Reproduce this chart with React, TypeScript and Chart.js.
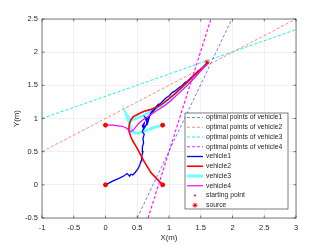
import React, { useEffect, useRef } from "react";
import { Chart, registerables } from "chart.js";
Chart.register(...registerables);

const xTicks = [-1, -0.5, 0, 0.5, 1, 1.5, 2, 2.5, 3];
const yTicks = [-0.5, 0, 0.5, 1, 1.5, 2, 2.5];

// optimal-point lines (two end points each)
const opt1X = [0.5, 1.99];
const opt1Y = [-0.5, 2.5];
const opt2X = [-1, 3];
const opt2Y = [0.5, 2.5];
const opt3X = [-1, 3];
const opt3Y = [1.0, 2.34];
const opt4X = [0.67, 1.66];
const opt4Y = [-0.5, 2.5];

const v1X = [0, 0.12, 0.22, 0.3, 0.34, 0.38, 0.4, 0.43, 0.47, 0.51, 0.54, 0.56, 0.57, 0.59, 0.58, 0.6, 0.59, 0.61, 0.58, 0.6, 0.58, 0.61, 0.6, 0.64, 0.67, 0.62, 0.66, 0.7, 0.64, 0.72, 0.68, 0.74, 0.7, 0.77, 0.73, 0.8, 0.78, 0.85, 0.83, 0.9, 0.95, 1.0, 1.05, 1.1, 1.15, 1.2, 1.25, 1.3, 1.35, 1.4, 1.45, 1.5, 1.55, 1.6];
const v1Y = [0, 0.06, 0.1, 0.14, 0.17, 0.13, 0.16, 0.15, 0.19, 0.24, 0.3, 0.36, 0.43, 0.5, 0.57, 0.63, 0.7, 0.76, 0.8, 0.85, 0.89, 0.93, 0.84, 0.9, 0.98, 1.02, 0.92, 1.05, 0.97, 1.08, 1.01, 1.12, 1.06, 1.14, 1.1, 1.18, 1.14, 1.22, 1.19, 1.26, 1.31, 1.34, 1.39, 1.42, 1.46, 1.49, 1.54, 1.57, 1.62, 1.66, 1.71, 1.74, 1.79, 1.84];

const v2X = [0.9, 0.81, 0.72, 0.66, 0.61, 0.56, 0.51, 0.47, 0.43, 0.4, 0.38, 0.36, 0.37, 0.38, 0.4, 0.43, 0.48, 0.54, 0.61, 0.69, 0.77, 0.85, 0.92, 1.0, 1.1, 1.2, 1.3, 1.4, 1.5, 1.56, 1.62, 1.6];
const v2Y = [0, 0.09, 0.18, 0.27, 0.35, 0.44, 0.53, 0.6, 0.66, 0.72, 0.78, 0.84, 0.88, 0.93, 0.98, 1.02, 1.05, 1.08, 1.11, 1.13, 1.16, 1.19, 1.24, 1.3, 1.38, 1.47, 1.56, 1.65, 1.74, 1.79, 1.85, 1.83];

const v3X = [0.9, 0.82, 0.75, 0.67, 0.59, 0.52, 0.46, 0.42, 0.4, 0.38, 0.35, 0.33, 0.37, 0.4, 0.44, 0.48, 0.53, 0.59, 0.66, 0.74, 0.82, 0.9, 1.0, 1.1, 1.2, 1.3, 1.4, 1.5, 1.6];
const v3Y = [0.9, 0.88, 0.86, 0.83, 0.8, 0.78, 0.78, 0.81, 0.85, 0.93, 1.0, 1.06, 1.0, 0.97, 0.99, 1.0, 1.02, 1.04, 1.08, 1.12, 1.16, 1.2, 1.28, 1.36, 1.45, 1.54, 1.63, 1.73, 1.83];

const v4X = [0, 0.06, 0.12, 0.2, 0.27, 0.32, 0.35, 0.39, 0.43, 0.46, 0.5, 0.54, 0.59, 0.64, 0.7, 0.78, 0.86, 0.94, 1.02, 1.1, 1.2, 1.3, 1.4, 1.5, 1.6];
const v4Y = [0.9, 0.9, 0.9, 0.89, 0.88, 0.86, 0.84, 0.8, 0.82, 0.85, 0.9, 0.94, 0.98, 1.01, 1.05, 1.1, 1.15, 1.2, 1.26, 1.33, 1.42, 1.51, 1.61, 1.72, 1.82];

const startX = [0, 0.9, 0, 0.9];
const startY = [0, 0, 0.9, 0.9];
const sourceX = [1.6];
const sourceY = [1.85];

const legendLabels = [
  "optimal points of vehicle1",
  "optimal points of vehicle2",
  "optimal points of vehicle3",
  "optimal points of vehicle4",
  "vehicle1",
  "vehicle2",
  "vehicle3",
  "vehicle4",
  "starting point",
  "source",
];
const xTitle = "X(m)";
const yTitle = "Y(m)";

const pts = (xs: number[], ys: number[]) => xs.map((x, i) => ({ x, y: ys[i] }));

const FONT = "'Liberation Sans', Arial, sans-serif";
const TXT = "#262626";

const boxPlugin = {
  id: "boxPlugin",
  afterDraw(chart: any) {
    const { ctx, chartArea: a, scales } = chart;
    ctx.save();
    ctx.strokeStyle = "#262626";
    ctx.lineWidth = 0.6;
    ctx.strokeRect(a.left, a.top, a.right - a.left, a.bottom - a.top);
    // inward ticks
    ctx.beginPath();
    xTicks.forEach((t) => {
      const px = scales.x.getPixelForValue(t);
      ctx.moveTo(px, a.bottom);
      ctx.lineTo(px, a.bottom - 2.5);
      ctx.moveTo(px, a.top);
      ctx.lineTo(px, a.top + 2.5);
    });
    yTicks.forEach((t) => {
      const py = scales.y.getPixelForValue(t);
      ctx.moveTo(a.left, py);
      ctx.lineTo(a.left + 2.5, py);
      ctx.moveTo(a.right, py);
      ctx.lineTo(a.right - 2.5, py);
    });
    ctx.stroke();

    // axis titles
    ctx.fillStyle = TXT;
    ctx.font = `7.8px ${FONT}`;
    ctx.textAlign = "center";
    ctx.textBaseline = "middle";
    ctx.fillText(xTitle, (a.left + a.right) / 2, 238);
    ctx.save();
    ctx.translate(17, (a.top + a.bottom) / 2);
    ctx.rotate(-Math.PI / 2);
    ctx.fillText(yTitle, 0, 0);
    ctx.restore();

    // legend
    const lx = 185, ly = 113, lw = 103, lh = 96;
    ctx.fillStyle = "#fff";
    ctx.fillRect(lx, ly, lw, lh);
    ctx.strokeStyle = "#262626";
    ctx.lineWidth = 0.6;
    ctx.strokeRect(lx, ly, lw, lh);
    const ds = chart.data.datasets;
    ctx.font = `6.8px ${FONT}`;
    ctx.textBaseline = "middle";
    ctx.textAlign = "left";
    legendLabels.forEach((lab, i) => {
      const y = ly + 4.5 + i * 9.75;
      const d = ds[i];
      const x0 = lx + 2, x1 = lx + 18;
      if (i < 8) {
        ctx.save();
        ctx.strokeStyle = d.borderColor;
        ctx.lineWidth = d.borderWidth;
        ctx.setLineDash(d.borderDash || []);
        ctx.beginPath();
        ctx.moveTo(x0, y);
        ctx.lineTo(x1, y);
        ctx.stroke();
        ctx.restore();
      } else if (i === 8) {
        ctx.fillStyle = "#ff0000";
        ctx.beginPath();
        ctx.arc((x0 + x1) / 2, y, 1, 0, Math.PI * 2);
        ctx.fill();
      } else {
        ctx.save();
        ctx.strokeStyle = "#ff0000";
        ctx.lineWidth = 1;
        const cx = (x0 + x1) / 2, r = 2.5;
        ctx.beginPath();
        for (let k = 0; k < 4; k++) {
          const ang = (k * Math.PI) / 4;
          ctx.moveTo(cx - r * Math.cos(ang), y - r * Math.sin(ang));
          ctx.lineTo(cx + r * Math.cos(ang), y + r * Math.sin(ang));
        }
        ctx.stroke();
        ctx.restore();
      }
      ctx.fillStyle = TXT;
      ctx.fillText(lab, lx + 21, y);
    });
    ctx.restore();
  },
};

export default function App() {
  const ref = useRef<HTMLCanvasElement>(null);
  useEffect(() => {
    document.body.style.margin = "0";
    const dashed = (xs: number[], ys: number[], color: string, w: number, dash: number[]) => ({
      data: pts(xs, ys),
      showLine: true,
      borderColor: color,
      borderWidth: w,
      borderDash: dash,
      pointRadius: 0,
      fill: false,
    });
    const solid = (xs: number[], ys: number[], color: string, w: number, order: number) => ({
      data: pts(xs, ys),
      showLine: true,
      borderColor: color,
      borderWidth: w,
      pointRadius: 0,
      fill: false,
      order,
    });
    const chart = new Chart(ref.current!, {
      type: "scatter",
      data: {
        datasets: [
          dashed(opt1X, opt1Y, "rgba(60,60,255,0.85)", 0.8, [3, 2]),
          dashed(opt2X, opt2Y, "rgba(255,80,80,0.85)", 0.8, [3, 2]),
          dashed(opt3X, opt3Y, "rgba(0,235,235,0.9)", 1, [3, 2]),
          dashed(opt4X, opt4Y, "rgba(255,0,255,0.9)", 1.2, [3, 2]),
          solid(v1X, v1Y, "#0000ff", 1.3, 3),
          solid(v2X, v2Y, "#ff0000", 1.6, 2),
          solid(v3X, v3Y, "rgb(110,255,255)", 3, 4),
          solid(v4X, v4Y, "#ff00ff", 1.2, 1),
          {
            data: pts(startX, startY),
            pointRadius: 2,
            pointBackgroundColor: "#ff0000",
            pointBorderColor: "#ff0000",
            showLine: false,
            order: 0,
          },
          {
            data: pts(sourceX, sourceY),
            pointRadius: 2.5,
            pointStyle: "star",
            pointBackgroundColor: "rgba(0,0,0,0)",
            pointBorderColor: "#ff0000",
            pointBorderWidth: 1,
            showLine: false,
            order: 5,
          },
        ] as any,
      },
      options: {
        animation: false,
        responsive: false,
        devicePixelRatio: 1,
        layout: { padding: { top: 19, right: 31, left: 0, bottom: 0 } },
        plugins: { legend: { display: false }, tooltip: { enabled: false } },
        scales: {
          x: {
            type: "linear",
            min: -1,
            max: 3,
            afterBuildTicks: (s: any) => {
              s.ticks = xTicks.map((v) => ({ value: v }));
            },
            afterFit: (s: any) => {
              s.height = 27;
            },
            grid: { color: "#e6e6e6", drawTicks: false, lineWidth: 0.6 },
            border: { display: false },
            ticks: {
              padding: 5,
              color: TXT,
              font: { size: 7.5, family: FONT },
              maxRotation: 0,
              callback: (v: any) => String(v),
            },
          },
          y: {
            type: "linear",
            min: -0.5,
            max: 2.5,
            afterBuildTicks: (s: any) => {
              s.ticks = yTicks.map((v) => ({ value: v }));
            },
            afterFit: (s: any) => {
              s.width = 42;
            },
            grid: { color: "#e6e6e6", drawTicks: false, lineWidth: 0.6 },
            border: { display: false },
            ticks: {
              padding: 4,
              color: TXT,
              font: { size: 7.5, family: FONT },
              callback: (v: any) => String(v),
            },
          },
        },
      },
      plugins: [boxPlugin],
    });
    return () => chart.destroy();
  }, []);
  return (
    <div style={{ position: "fixed", left: 0, top: 0, width: 327, height: 245, background: "#fff" }}>
      <canvas ref={ref} width={327} height={245} />
    </div>
  );
}
